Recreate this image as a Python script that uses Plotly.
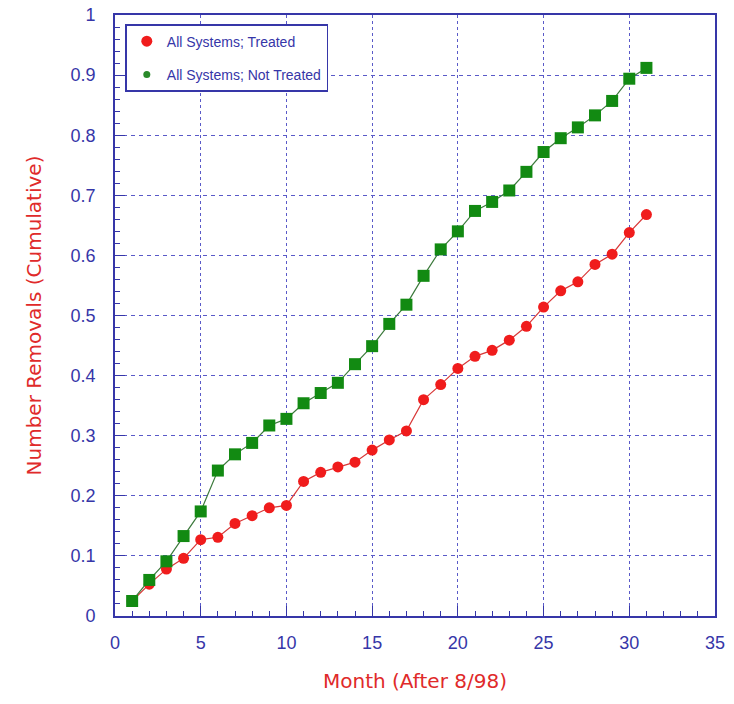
import plotly.graph_objects as go

months = list(range(1, 32))
treated = [0.025, 0.053, 0.078, 0.096, 0.127, 0.131, 0.154, 0.167, 0.180, 0.184,
           0.224, 0.239, 0.248, 0.256, 0.276, 0.293, 0.308, 0.360, 0.385, 0.412,
           0.432, 0.442, 0.459, 0.482, 0.514, 0.541, 0.556, 0.585, 0.602, 0.638, 0.668]
not_treated = [0.025, 0.060, 0.091, 0.133, 0.174, 0.242, 0.269, 0.288, 0.317, 0.328,
               0.354, 0.371, 0.388, 0.419, 0.449, 0.486, 0.518, 0.566, 0.610, 0.640,
               0.674, 0.689, 0.708, 0.739, 0.772, 0.795, 0.813, 0.833, 0.857, 0.894, 0.912]

x_ticks = [0, 5, 10, 15, 20, 25, 30, 35]
y_ticks = [0, 0.1, 0.2, 0.3, 0.4, 0.5, 0.6, 0.7, 0.8, 0.9, 1]
y_labels = ["0", "0.1", "0.2", "0.3", "0.4", "0.5", "0.6", "0.7", "0.8", "0.9", "1"]
series_names = ["All Systems; Treated", "All Systems; Not Treated"]

BLUE = "#3636a8"
GRID = "#5a5ac8"
RED = "#e02a2a"
TICKFONT = dict(family="Liberation Sans, Arial, sans-serif", size=18, color=BLUE)
TITLEFONT = dict(family="DejaVu Sans, sans-serif", size=20, color=RED)

fig = go.Figure()
fig.add_trace(go.Scatter(
    x=months, y=treated, mode="lines+markers", name=series_names[0], showlegend=False,
    line=dict(color="#d83838", width=1.2),
    marker=dict(symbol="circle", size=11, color="#f01c1c", line=dict(width=0)),
))
fig.add_trace(go.Scatter(
    x=months, y=not_treated, mode="lines+markers", name=series_names[1], showlegend=False,
    line=dict(color="#3c7a3c", width=1.2),
    marker=dict(symbol="square", size=12, color="#128a12", line=dict(width=0)),
))
# legend entries (marker only, as in the original legend)
fig.add_trace(go.Scatter(
    x=[None], y=[None], mode="markers", name=series_names[0], legendgroup="a",
    marker=dict(symbol="circle", size=11, color="#f01c1c"),
))
fig.add_trace(go.Scatter(
    x=[None], y=[None], mode="markers", name=series_names[1], legendgroup="b",
    marker=dict(symbol="circle", size=7, color="#2a8a2a"),
))

axis_common = dict(
    showline=True, linecolor=BLUE, linewidth=1.6, mirror=True,
    showgrid=True, gridcolor=GRID, gridwidth=1.3,
    zeroline=False, ticks="inside", ticklen=10, tickcolor=BLUE, tickwidth=1.3,
    tickfont=TICKFONT, automargin=False,
)

fig.update_xaxes(
    range=[0, 35], tickmode="array", tickvals=x_ticks, ticktext=[str(v) for v in x_ticks],
    griddash="3px,3px",
    minor=dict(tickmode="linear", tick0=0, dtick=1, ticks="inside", ticklen=5,
               tickcolor=BLUE, tickwidth=1.2, showgrid=False),
    title=dict(text="Month (After 8/98)", font=TITLEFONT, standoff=22),
    ticklabelstandoff=10,
    **axis_common,
)
fig.update_yaxes(
    range=[0, 1], tickmode="array", tickvals=y_ticks, ticktext=y_labels,
    griddash="4px,4px",
    minor=dict(tickmode="linear", tick0=0, dtick=0.02, ticks="inside", ticklen=5,
               tickcolor=BLUE, tickwidth=1.2, showgrid=False),
    title=dict(text="Number Removals (Cumulative)", font=TITLEFONT, standoff=24),
    ticklabelstandoff=14,
    **axis_common,
)

fig.update_layout(
    width=734, height=704,
    margin=dict(l=115, r=19, t=15, b=88),
    paper_bgcolor="white", plot_bgcolor="white",
    showlegend=True,
    legend=dict(
        x=0.017, y=0.985, xanchor="left", yanchor="top",
        bgcolor="white", bordercolor=BLUE, borderwidth=1.6,
        font=dict(family="Liberation Sans, Arial, sans-serif", size=14, color=BLUE),
        itemsizing="trace", traceorder="grouped", tracegroupgap=12,
        itemwidth=30,
    ),
)

fig.write_html("out.html",
               config={"displayModeBar": False},
               post_script="document.body.style.margin='0';document.body.style.overflow='hidden';")
